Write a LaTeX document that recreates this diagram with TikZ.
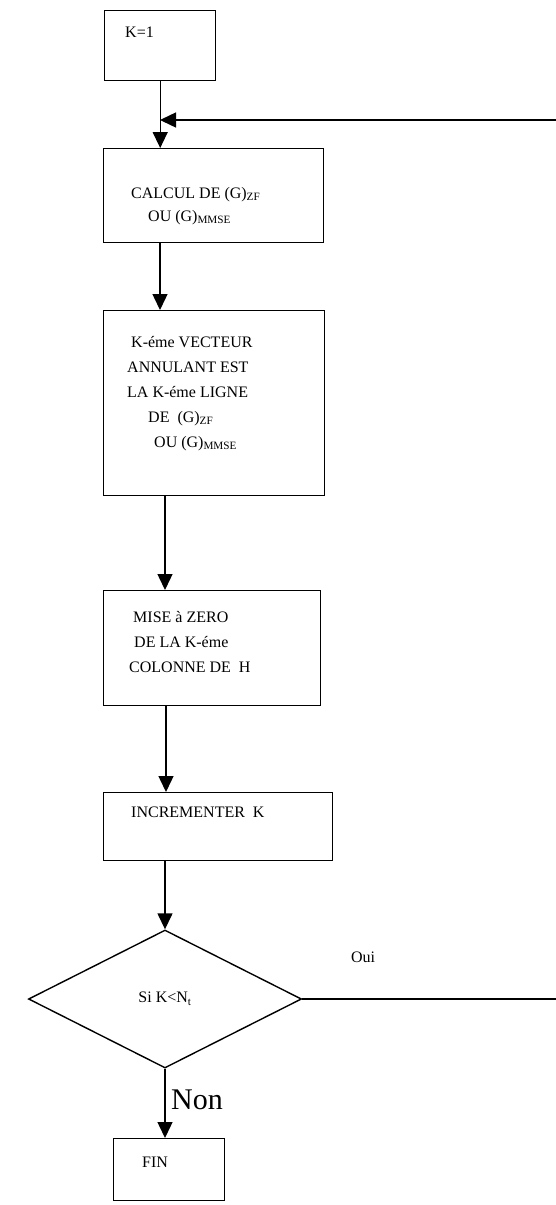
\documentclass[tikz,border=0pt]{standalone}
\usepackage{fontspec}
\setmainfont{Liberation Serif}
\usetikzlibrary{arrows.meta,shapes.geometric,calc}
\begin{document}
\begin{tikzpicture}[x=1pt,y=-1pt,
  box/.style={draw, line width=1.4pt, rectangle, anchor=north west, inner sep=0pt},
  txt/.style={anchor=north west, align=left, inner sep=0pt, font=\fontsize{16}{25}\selectfont},
  flow/.style={line width=1.4pt, -{Triangle[length=16pt,width=15pt]}},
  lbl/.style={inner sep=0pt, font=\fontsize{16}{19}\selectfont}]
\useasboundingbox (0,0) rectangle (556,1205);

% process boxes
\node[box, minimum width=111pt, minimum height=70pt] (k1) at (104,10) {};
\node[txt] (k1t) at (125,27) {K=1};

\node[box, minimum width=220pt, minimum height=94pt] (calc) at (103,148) {};
\node[txt, font=\fontsize{16}{23}\selectfont] (calct) at (131,187)
  {CALCUL DE (G)\textsubscript{ZF}\\\hspace*{17pt}OU (G)\textsubscript{MMSE}};

\node[box, minimum width=221pt, minimum height=185pt] (vec) at (103,310) {};
\node[txt] (vect) at (127,336)
  {\hspace*{4pt}K-éme VECTEUR\\ANNULANT EST\\LA K-éme LIGNE\\
   \hspace*{21pt}DE~~(G)\textsubscript{ZF}\\\hspace*{27pt}OU (G)\textsubscript{MMSE}};

\node[box, minimum width=217pt, minimum height=115pt] (mise) at (103,590) {};
\node[txt] (miset) at (129,611)
  {\hspace*{4pt}MISE à ZERO\\\hspace*{5pt}DE LA K-éme\\COLONNE DE~~H};

\node[box, minimum width=229pt, minimum height=68pt] (inc) at (103,792) {};
\node[txt] (inct) at (131,807) {INCREMENTER~~K};

% test
\node[draw, diamond, line width=1.4pt, minimum width=273pt, minimum height=138pt,
      inner sep=0pt, font=\fontsize{16}{19}\selectfont] (test) at (165,999) {Si K<N\textsubscript{t}};

\node[box, minimum width=111pt, minimum height=62pt] (fin) at (113,1138) {};
\node[txt] (fint) at (142,1157) {FIN};

% main flow
\coordinate (loop) at (160,120);
\draw[flow] (k1.south) -- (k1.south |- calc.north);
\draw[flow] ($(calc.south west)+(57,0)$) -- ($(vec.north west)+(57,0)$);
\draw[flow] ($(vec.south west)+(62,0)$) -- ($(mise.north west)+(62,0)$);
\draw[flow] ($(mise.south west)+(63,0)$) -- ($(inc.north west)+(63,0)$);
\draw[flow] ($(inc.south west)+(62,0)$) -- (test.north);
\draw[flow] (test.south) -- (test.south |- fin.north);

% loop back while K < Nt
\draw[flow] (test.east) -- (560,999) -- (560,120) -- (loop);

% branch labels
\node[lbl] (oui) at (363,957) {Oui};
\node[lbl, anchor=west, font=\fontsize{30}{34}\selectfont] (non) at (171,1100) {Non};
\end{tikzpicture}
\end{document}
